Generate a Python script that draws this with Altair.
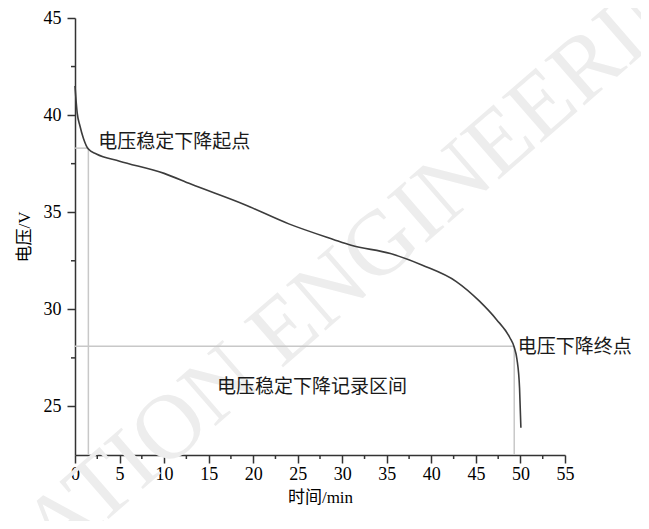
import altair as alt
import pandas as pd

# ---- data ----
time_min = [0, 0.25, 0.55, 0.95, 1.5, 2.4, 5, 10, 13, 19, 24, 29, 31, 35.4, 39, 42.8, 45.4, 47.3, 48.8, 49.3, 49.6, 49.9, 50.05]
voltage = [41.5, 40.1, 39.45, 38.8, 38.25, 38.0, 37.63, 37.0, 36.45, 35.4, 34.4, 33.6, 33.3, 32.87, 32.27, 31.43, 30.42, 29.48, 28.55, 28.05, 27.45, 25.93, 23.9]

start_t, start_v = 1.5, 38.3
end_t, end_v = 49.3, 28.1
y_min = 22.5

ref_x = [start_t, 0, end_t, 0]
ref_x2 = [start_t, start_t, end_t, end_t]
ref_y = [y_min, start_v, y_min, end_v]
ref_y2 = [start_v, start_v, end_v, end_v]

label_text = ["电压稳定下降起点", "电压下降终点", "电压稳定下降记录区间"]
label_x = [2.6, 49.7, 26.6]
label_y = [38.6, 28.06, 26.0]

x_major = [0, 5, 10, 15, 20, 25, 30, 35, 40, 45, 50, 55]
x_minor = [2.5, 7.5, 12.5, 17.5, 22.5, 27.5, 32.5, 37.5, 42.5, 47.5, 52.5]
y_major = [25, 30, 35, 40, 45]
y_minor = [27.5, 32.5, 37.5, 42.5]

watermark = ["ATION ENGINEERING"]

SERIF = "Liberation Serif, Noto Sans CJK SC"
AX = "#333333"
PLOT_H = 437

curve_df = pd.DataFrame({"t": time_min, "v": voltage})
ref_df = pd.DataFrame({"x": ref_x, "x2": ref_x2, "y": ref_y, "y2": ref_y2})
lab_df = pd.DataFrame({"text": label_text, "x": label_x, "y": label_y})

xscale = alt.Scale(domain=[0, 55], nice=False, zero=False)
yscale = alt.Scale(domain=[22.5, 45], nice=False, zero=False)

xaxis = alt.Axis(
    values=x_major, title="时间/min", grid=False, tickSize=8,
    labelFont=SERIF, labelFontSize=18, labelColor="#000", labelPadding=2,
    titleFont=SERIF, titleFontSize=17, titleFontWeight="normal", titleColor="#000", titlePadding=6,
    domainColor=AX, domainWidth=1.5, tickColor=AX, tickWidth=1.5, labelFlush=False,
)
yaxis = alt.Axis(
    values=y_major, title="电压/V", grid=False, tickSize=8,
    labelFont=SERIF, labelFontSize=18, labelColor="#000", labelPadding=6,
    titleFont=SERIF, titleFontSize=17, titleFontWeight="normal", titleColor="#000", titlePadding=10,
    domainColor=AX, domainWidth=1.5, tickColor=AX, tickWidth=1.5, labelFlush=False,
)

wm = alt.Chart(pd.DataFrame({"text": watermark})).mark_text(
    font="Liberation Serif", fontSize=92, color="#ededed", angle=319,
    align="left", baseline="middle",
).encode(text="text:N", x=alt.value(-38), y=alt.value(526))

refs = alt.Chart(ref_df).mark_rule(color="#c8c8c8", strokeWidth=1.5).encode(
    x=alt.X("x:Q", scale=xscale, axis=xaxis),
    x2="x2:Q",
    y=alt.Y("y:Q", scale=yscale, axis=yaxis),
    y2="y2:Q",
)

xminor = alt.Chart(pd.DataFrame({"m": x_minor})).mark_rule(color=AX, strokeWidth=1.5).encode(
    x=alt.X("m:Q", scale=xscale, axis=xaxis),
    y=alt.value(PLOT_H), y2=alt.value(PLOT_H + 4),
)
yminor = alt.Chart(pd.DataFrame({"m": y_minor})).mark_rule(color=AX, strokeWidth=1.5).encode(
    y=alt.Y("m:Q", scale=yscale, axis=yaxis),
    x=alt.value(-4), x2=alt.value(0),
)

curve = alt.Chart(curve_df).mark_line(color="#3c3c3c", strokeWidth=1.6, interpolate="monotone").encode(
    x=alt.X("t:Q", scale=xscale, axis=xaxis),
    y=alt.Y("v:Q", scale=yscale, axis=yaxis),
)

lab_left = alt.Chart(lab_df.iloc[:2]).mark_text(
    font=SERIF, fontSize=19, color="#1a1a1a", baseline="middle", align="left"
).encode(
    x=alt.X("x:Q", scale=xscale, axis=xaxis),
    y=alt.Y("y:Q", scale=yscale, axis=yaxis),
    text="text:N",
)
lab_center = alt.Chart(lab_df.iloc[2:]).mark_text(
    font=SERIF, fontSize=19, color="#1a1a1a", baseline="middle", align="center"
).encode(
    x=alt.X("x:Q", scale=xscale, axis=xaxis),
    y=alt.Y("y:Q", scale=yscale, axis=yaxis),
    text="text:N",
)

chart = alt.layer(wm, refs, xminor, yminor, curve, lab_left, lab_center).properties(
    width=490, height=PLOT_H,
    background="white",
    autosize=alt.AutoSizeParams(type="none"),
    padding={"left": 67, "top": 10, "right": 76, "bottom": 66},
).configure_view(stroke="transparent", strokeWidth=0)

chart.save("out.html", embed_options={"renderer": "svg", "actions": False})
